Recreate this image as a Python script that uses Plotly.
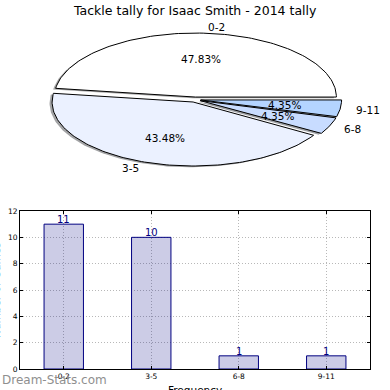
import numpy as np
import plotly.graph_objects as go

# ---- data ----
title = "Tackle tally for Isaac Smith - 2014 tally"
categories = ["0-2", "3-5", "6-8", "9-11"]
counts = [11, 10, 1, 1]
slice_colors = ["#ffffff", "#ebf1ff", "#c8dcff", "#b4d4ff"]
explode = [0.04, 0.04, 0.04, 0.04]
y_ticks = [0, 2, 4, 6, 8, 10, 12]
x_title = "Frequency"
y_title = "Number of Games"
watermark = "Dream-Stats.com"

W = H = 390
FONT = "DejaVu Sans"

# ---- pie geometry (ellipse, matplotlib-like squashed axes) ----
cx, cy, rx, ry = 195.0, 99.6, 141.0, 64.0  # pixel centre and radii
x2_range = [-cx / rx, (W - cx) / rx]
y2_range = [(cy - H) / ry, cy / ry]

fig = go.Figure()

total = float(sum(counts))
fracs = [c / total for c in counts]
starts = np.concatenate([[0.0], np.cumsum(fracs)[:-1]]) * 360.0
ends = np.cumsum(fracs) * 360.0

def wedge(a0, a1, ox, oy):
    t = np.radians(np.linspace(a0, a1, 120))
    xs = np.concatenate([[ox], ox + np.cos(t), [ox]])
    ys = np.concatenate([[oy], oy + np.sin(t), [oy]])
    return xs, ys

centres = []
for a0, a1, e in zip(starts, ends, explode):
    tm = np.radians((a0 + a1) / 2)
    centres.append((e * np.cos(tm), e * np.sin(tm), tm))

# shadows
for (ox, oy, tm), a0, a1, col in zip(centres, starts, ends, slice_colors):
    r, g, b = int(col[1:3], 16), int(col[3:5], 16), int(col[5:7], 16)
    xs, ys = wedge(a0, a1, ox - 0.018, oy - 0.02)
    fig.add_trace(go.Scatter(x=xs, y=ys, xaxis="x2", yaxis="y2", mode="lines",
                             fill="toself",
                             fillcolor=f"rgba({int(r*0.3)},{int(g*0.3)},{int(b*0.3)},0.5)",
                             line=dict(width=0), hoverinfo="skip", showlegend=False))
# wedges
for (ox, oy, tm), a0, a1, col, cat in zip(centres, starts, ends, slice_colors, categories):
    xs, ys = wedge(a0, a1, ox, oy)
    fig.add_trace(go.Scatter(x=xs, y=ys, xaxis="x2", yaxis="y2", mode="lines",
                             fill="toself", fillcolor=col,
                             line=dict(color="black", width=1),
                             name=cat, showlegend=False, hoverinfo="name"))

annotations = []
for (ox, oy, tm), f, cat in zip(centres, fracs, categories):
    xt = ox + 1.1 * np.cos(tm)
    yt = oy + 1.1 * np.sin(tm)
    annotations.append(dict(x=xt, y=yt, xref="x2", yref="y2", text=cat, showarrow=False,
                            xanchor="left" if xt > 0 else "right", yanchor="middle",
                            font=dict(family=FONT, size=10.5, color="black")))
    xp = ox + 0.6 * np.cos(tm)
    yp = oy + 0.6 * np.sin(tm)
    annotations.append(dict(x=xp, y=yp, xref="x2", yref="y2", text=f"{f*100:.2f}%",
                            showarrow=False, xanchor="center", yanchor="middle",
                            font=dict(family=FONT, size=10.5, color="black")))

# ---- bar chart ----
xpos = list(range(len(categories)))
fig.add_trace(go.Bar(x=xpos, y=counts, width=0.45,
                     marker=dict(color="rgba(0,0,128,0.2)", line=dict(color="#000080", width=1)),
                     showlegend=False, xaxis="x", yaxis="y"))
for xi, c in zip(xpos, counts):
    annotations.append(dict(x=xi, y=c, xref="x", yref="y", text=str(c), showarrow=False,
                            xanchor="center", yanchor="bottom", yshift=-3,
                            font=dict(family=FONT, size=10, color="#000080")))

annotations.append(dict(x=195 / W, y=1 - 1 / H, xref="paper", yref="paper", text=title,
                        showarrow=False, xanchor="center", yanchor="top",
                        font=dict(family=FONT, size=12.5, color="black")))
annotations.append(dict(x=195 / W, y=1 - 382 / H, xref="paper", yref="paper", text=x_title,
                        showarrow=False, xanchor="center", yanchor="top",
                        font=dict(family=FONT, size=10.5, color="black")))
annotations.append(dict(x=-4 / W, y=1 - 290 / H, xref="paper", yref="paper", text=y_title,
                        showarrow=False, xanchor="center", yanchor="middle", textangle=-90,
                        font=dict(family=FONT, size=10.5, color="black")))
annotations.append(dict(x=0, y=1 - 380 / H, xref="paper", yref="paper", text=watermark,
                        showarrow=False, xanchor="left", yanchor="middle",
                        font=dict(family=FONT, size=12, color="#8f8f8f")))

grid = "#b8b8b8"
fig.update_layout(
    width=W, height=H,
    margin=dict(l=0, r=0, t=0, b=0),
    paper_bgcolor="white", plot_bgcolor="rgba(0,0,0,0)",
    xaxis=dict(domain=[20 / W, 370 / W], range=[-0.5, 3.5], tickmode="array",
               tickvals=xpos, ticktext=categories, showgrid=True, gridcolor=grid,
               griddash="1px,2px", gridwidth=1, showline=True, linecolor="black", linewidth=1,
               mirror="ticks", ticks="inside", ticklen=3, tickcolor="black",
               tickfont=dict(family=FONT, size=7.5, color="black"), zeroline=False,
               anchor="y", automargin=False, fixedrange=True),
    yaxis=dict(domain=[1 - 369 / H, 1 - 211 / H], range=[0, 12], tickmode="array",
               tickvals=y_ticks, showgrid=True, gridcolor=grid, griddash="1px,2px",
               gridwidth=1, showline=True, linecolor="black", linewidth=1, mirror="ticks",
               ticks="inside", ticklen=3, tickcolor="black",
               tickfont=dict(family=FONT, size=7.5, color="black"), zeroline=False,
               anchor="x", automargin=False, fixedrange=True),
    xaxis2=dict(domain=[0, 1], range=x2_range, visible=False, anchor="y2", fixedrange=True),
    yaxis2=dict(domain=[0, 1], range=y2_range, visible=False, anchor="x2", fixedrange=True),
    annotations=annotations,
)

fig.write_html("out.html", config={"displayModeBar": False},
               post_script="document.body.style.margin='0';document.body.style.overflow='hidden';")
